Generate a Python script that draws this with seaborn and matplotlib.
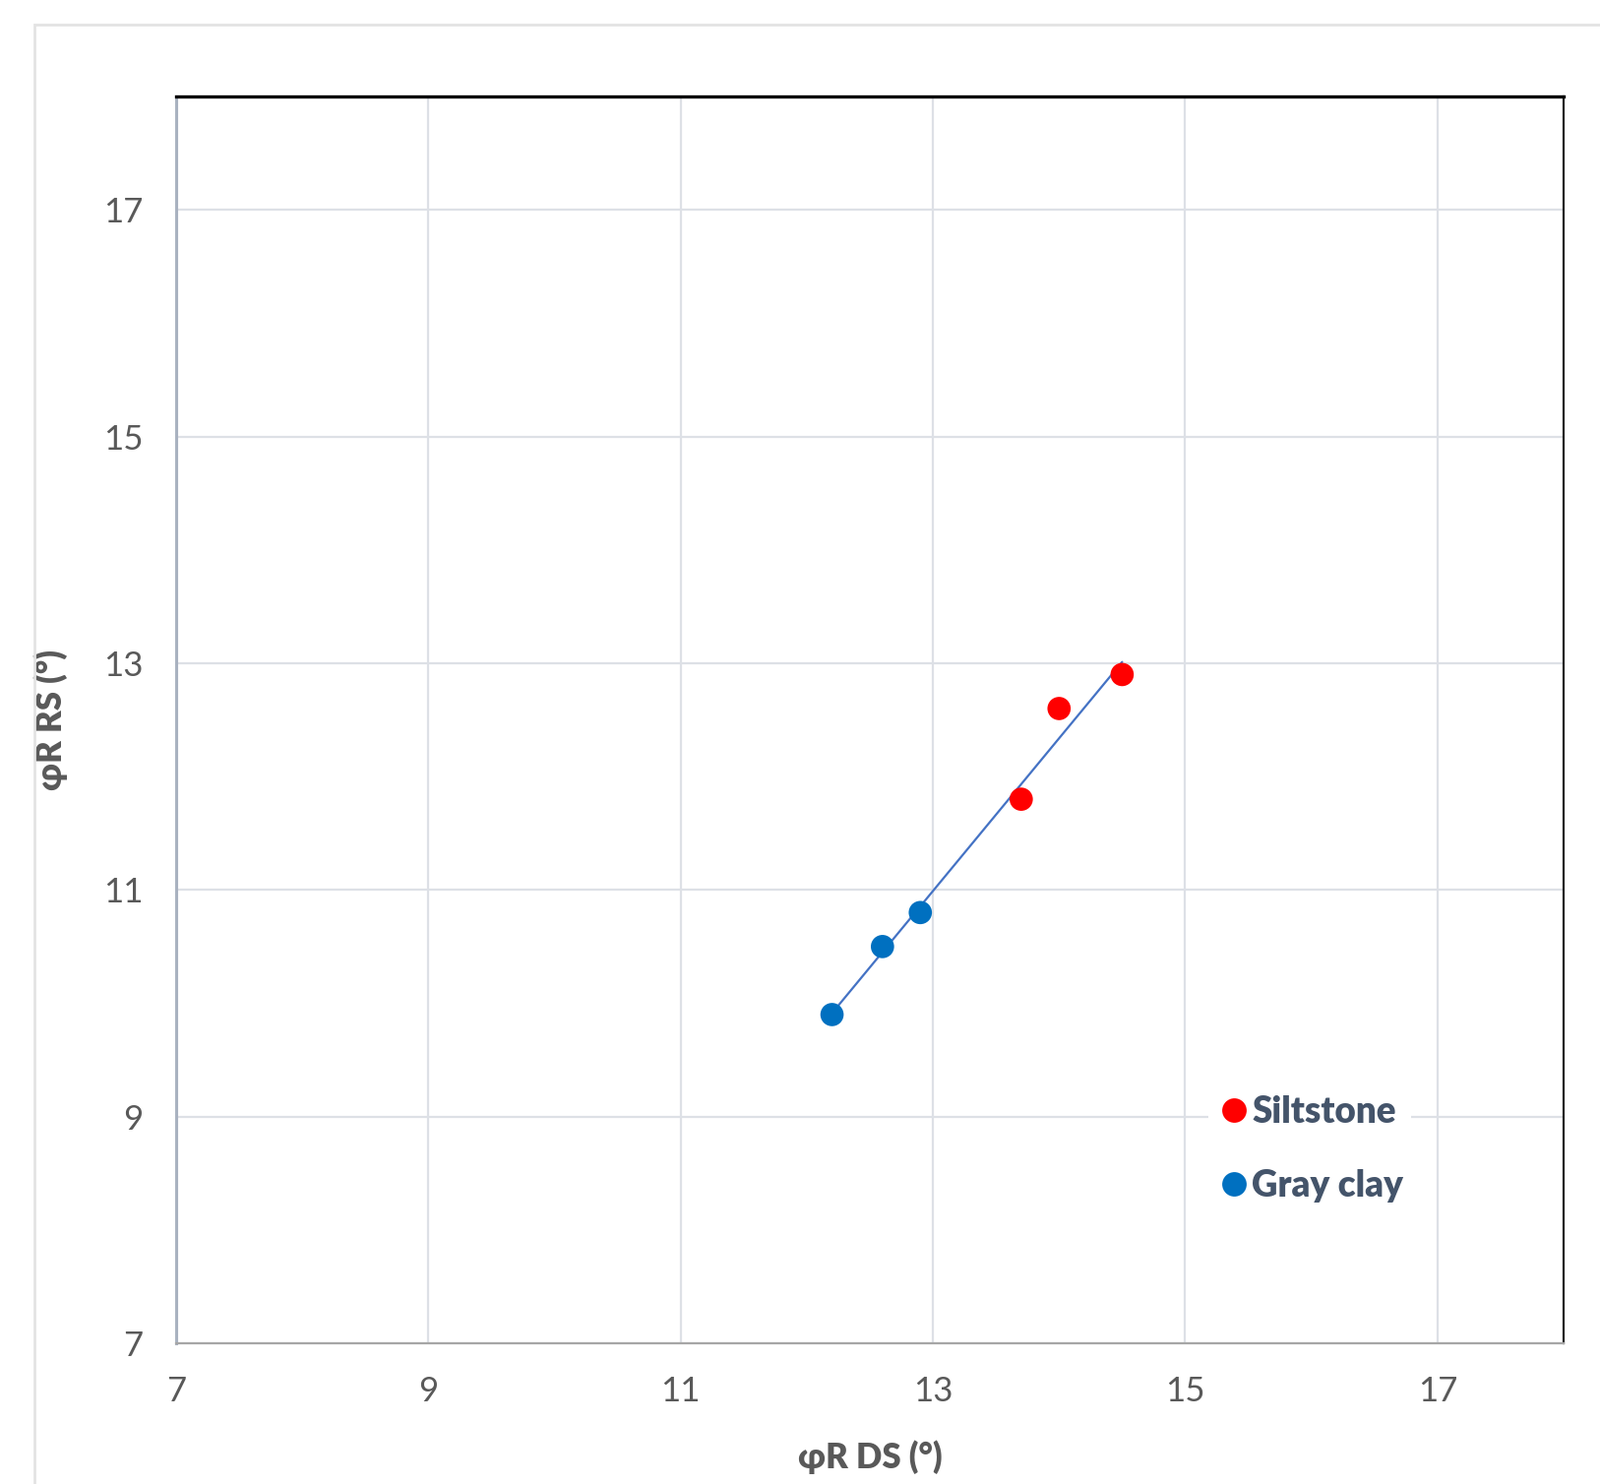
import numpy as np
import pandas as pd
import seaborn as sns
import matplotlib.pyplot as plt
from matplotlib.patches import Rectangle

# values
siltstone_ds = [13.7, 14.0, 14.5]
siltstone_rs = [11.8, 12.6, 12.9]
clay_ds = [12.2, 12.6, 12.9]
clay_rs = [9.9, 10.5, 10.8]
groups = ['Siltstone', 'Gray clay']
ticks = [7, 9, 11, 13, 15, 17]

df = pd.DataFrame({
    'ds': clay_ds + siltstone_ds,
    'rs': clay_rs + siltstone_rs,
    'group': ['Gray clay'] * len(clay_ds) + ['Siltstone'] * len(siltstone_ds),
})

sns.set_style('white')
plt.rcParams['font.family'] = ['Lato', 'DejaVu Sans']

fig = plt.figure(figsize=(16.26, 15.08), dpi=100)
ax = fig.add_axes([179/1626, 1 - 1365/1508, 1410/1626, 1267/1508])

# outer frame of the screenshot
fig.patches.append(Rectangle((35/1626, -0.05), 1.0, 1 - 25/1508 + 0.05,
                             transform=fig.transFigure, fill=False,
                             edgecolor='#E3E3E3', lw=2, zorder=0))

sns.regplot(data=df, x='ds', y='rs', scatter=False, ci=None, ax=ax,
            line_kws=dict(color='#4472C4', lw=1.6, zorder=2))
sns.scatterplot(data=df, x='ds', y='rs', hue='group', hue_order=groups,
                palette={'Siltstone': '#FF0000', 'Gray clay': '#0070C0'},
                s=290, edgecolor='none', ax=ax, zorder=3)

ax.set_xlim(7, 18)
ax.set_ylim(7, 18)
ax.set_xticks(ticks)
ax.set_yticks(ticks)
ax.grid(True, color='#DDE0E6', lw=1.6)
ax.set_axisbelow(True)
ax.tick_params(axis='both', labelsize=25, labelcolor='#595959', length=0, pad=24)

ax.set_xlabel('φR DS (°)', fontsize=25, fontweight='heavy', color='#595959', labelpad=24)
ax.set_ylabel('φR RS (°)', fontsize=25, fontweight='heavy', color='#595959', labelpad=26)

ax.spines['top'].set_color('black')
ax.spines['top'].set_linewidth(2.4)
ax.spines['right'].set_color('#222222')
ax.spines['right'].set_linewidth(1.6)
ax.spines['left'].set_color('#A9B2C0')
ax.spines['left'].set_linewidth(2.2)
ax.spines['bottom'].set_color('#A6A6A6')
ax.spines['bottom'].set_linewidth(1.6)

leg = ax.legend(loc='center left', bbox_to_anchor=(0.731, 0.156), frameon=True,
                facecolor='white', edgecolor='none', framealpha=1, fancybox=False,
                fontsize=26.5, labelspacing=1.1, handletextpad=0.0, handlelength=1.0,
                borderpad=0.2, markerscale=1.05)
for t in leg.get_texts():
    t.set_fontweight('heavy')
    t.set_color('#44546A')

plt.savefig('out.png', dpi=100)
